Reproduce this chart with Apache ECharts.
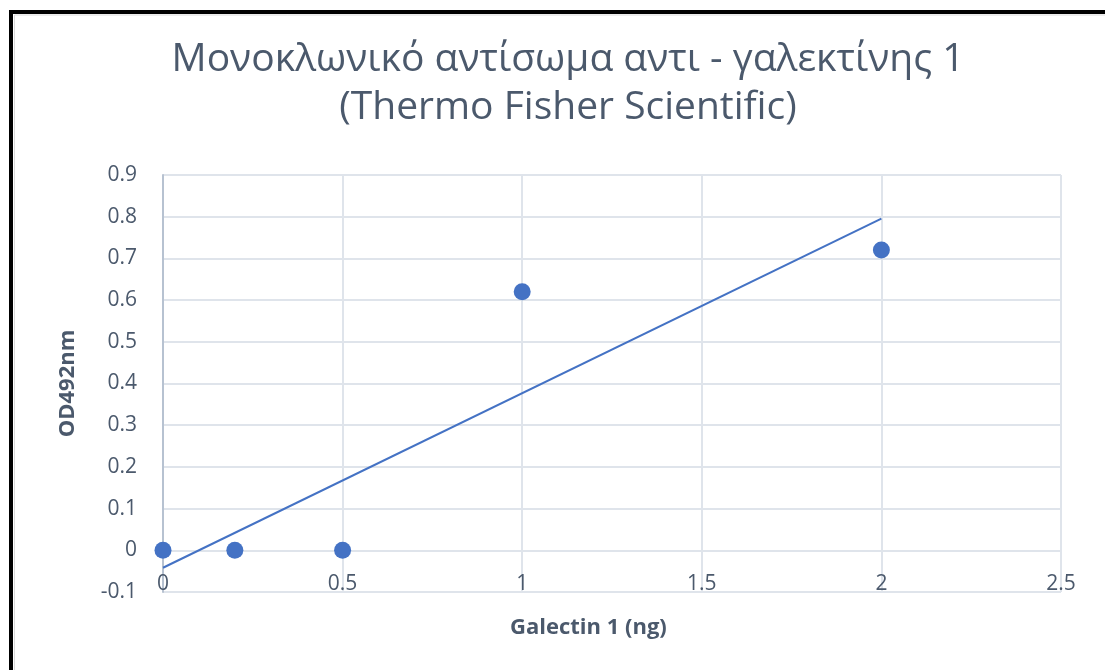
<!DOCTYPE html>
<html>
<head>
<meta charset="utf-8">
<title>Galectin 1 ELISA</title>
<script src="https://cdn.jsdelivr.net/npm/echarts@6/dist/echarts.min.js"></script>
<style>
  html, body { margin: 0; padding: 0; background: #ffffff; }
  #chart { width: 1105px; height: 670px; }
</style>
</head>
<body>
<div id="chart"></div>
<script>
// Measured absorbance for each amount of galectin 1
const galectinNg = [0, 0.2, 0.5, 1, 2];
const od492 = [0, 0, 0, 0.62, 0.72];

const titleLines = ['Μονοκλωνικό αντίσωμα αντι - γαλεκτίνης 1', '(Thermo Fisher Scientific)'];
const xAxisTitle = 'Galectin 1 (ng)';
const yAxisTitle = 'OD492nm';

// Least-squares linear trendline over the measured points
function linearFit(xs, ys) {
  const n = xs.length;
  const mx = xs.reduce((a, b) => a + b, 0) / n;
  const my = ys.reduce((a, b) => a + b, 0) / n;
  let sxy = 0, sxx = 0;
  for (let i = 0; i < n; i++) {
    sxy += (xs[i] - mx) * (ys[i] - my);
    sxx += (xs[i] - mx) * (xs[i] - mx);
  }
  const slope = sxy / sxx;
  return { slope, intercept: my - slope * mx };
}
const fit = linearFit(galectinNg, od492);
const xMin = Math.min(...galectinNg), xMax = Math.max(...galectinNg);
const trendData = [
  [xMin, fit.intercept + fit.slope * xMin],
  [xMax, fit.intercept + fit.slope * xMax]
];
const points = galectinNg.map((x, i) => [x, od492[i]]);

const textColor = '#4b596c';
const gridColor = '#dfe4eb';
const blue = '#4472c4';
const font = '"Open Sans", "Noto Sans", sans-serif';

const chart = echarts.init(document.getElementById('chart'), null, { renderer: 'canvas' });
chart.setOption({
  animation: false,
  backgroundColor: '#ffffff',
  title: {
    text: titleLines.join('\n'),
    left: 563,
    top: 31,
    textAlign: 'center',
    textStyle: {
      color: textColor,
      fontFamily: font,
      fontWeight: 'normal',
      fontSize: 39,
      lineHeight: 48
    }
  },
  grid: { left: 163, right: 44, top: 175, bottom: 78 },
  xAxis: {
    type: 'value',
    min: 0,
    max: 2.5,
    interval: 0.5,
    axisLine: { show: false },
    axisTick: { show: false },
    splitLine: { show: true, lineStyle: { color: gridColor, width: 2 } },
    axisLabel: {
      color: textColor,
      fontFamily: font,
      fontSize: 21,
      margin: -18,
      formatter: v => String(+v.toFixed(1))
    }
  },
  yAxis: {
    type: 'value',
    min: -0.1,
    max: 0.9,
    interval: 0.1,
    axisLine: { show: true, onZero: false, lineStyle: { color: '#b7c2d1', width: 2 } },
    axisTick: { show: false },
    splitLine: { show: true, lineStyle: { color: gridColor, width: 2 } },
    axisLabel: {
      color: textColor,
      fontFamily: font,
      fontSize: 21,
      margin: 26,
      formatter: v => String(+v.toFixed(1))
    },
    name: yAxisTitle,
    nameLocation: 'middle',
    nameGap: 84,
    nameTextStyle: {
      color: textColor,
      fontFamily: font,
      fontWeight: 'bold',
      fontSize: 22
    }
  },
  graphic: [
    {
      type: 'text',
      left: 510,
      top: 617,
      style: {
        text: xAxisTitle,
        fill: textColor,
        font: 'bold 22px ' + font
      }
    },
    {
      type: 'rect',
      shape: { x: 11, y: 12, width: 1200, height: 1000 },
      style: { fill: null, stroke: '#000000', lineWidth: 4 },
      silent: true
    },
    {
      type: 'rect',
      shape: { x: 14.5, y: 15, width: 1200, height: 1000 },
      style: { fill: null, stroke: '#d9d9d9', lineWidth: 1 },
      silent: true
    }
  ],
  series: [
    {
      name: 'Trendline',
      type: 'line',
      data: trendData,
      showSymbol: false,
      lineStyle: { color: blue, width: 2 },
      z: 2
    },
    {
      name: 'OD492nm',
      type: 'scatter',
      data: points,
      symbol: 'circle',
      symbolSize: 17,
      itemStyle: { color: blue, opacity: 1 },
      z: 3
    }
  ]
});
</script>
</body>
</html>
